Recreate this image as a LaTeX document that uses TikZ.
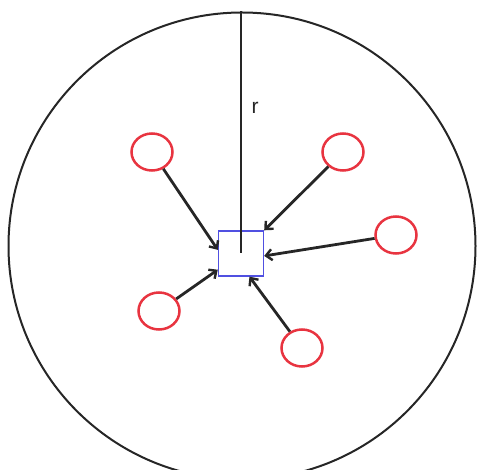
\documentclass[tikz,border=0pt]{standalone}
\usepackage{fontspec}
\setsansfont{Liberation Sans}
\usetikzlibrary{arrows.meta,positioning,shapes.geometric}
\definecolor{ringred}{RGB}{232,52,64}
\definecolor{boxblue}{RGB}{80,80,225}
\definecolor{inkgray}{RGB}{38,38,38}
\tikzset{
      bigring/.style={
        circle,
        draw=inkgray,
        line width=2pt,
        minimum size=467pt,
        inner sep=0pt
      },
      particle/.style={
        ellipse,
        draw=ringred,
        line width=2.5pt,
        minimum width=41pt,
        minimum height=37pt,
        inner sep=0pt
      },
      centerbox/.style={
        rectangle,
        draw=boxblue,
        line width=1.4pt,
        minimum size=45pt,
        inner sep=0pt
      },
      pull/.style={
        -{Straight Barb[length=6pt,width=11pt,line width=2.4pt]},
        line width=2.8pt,
        color=inkgray
      }
    }

\begin{document}
\begin{tikzpicture}[x=1pt,y=-1pt]
    \useasboundingbox (0,0) rectangle (477,470);
    \node[bigring] (ring) at (242,246) {};
    \node[centerbox] (sq) at (241,253.5) {};
    \node[particle] (p1) at (152,152) {};
    \node[particle] (p2) at (343,152) {};
    \node[particle] (p3) at (396,235) {};
    \node[particle] (p4) at (159,311) {};
    \node[particle] (p5) at (302,348) {};
    \draw[line width=2pt, color=inkgray] (sq.center |- ring.north) -- (sq.center);
    \node[font=\sffamily\fontsize{21}{21}\selectfont, color=inkgray] (rlabel) at (255,108) {r};
    \draw[pull] (p1) -- (sq.171);
    \draw[pull] (p2) -- (sq.north east);
    \draw[pull] (p3) -- (sq.-6);
    \draw[pull] (p4) -- (sq.-145);
    \draw[pull] (p5) -- (sq.-70);
    \end{tikzpicture}
\end{document}
